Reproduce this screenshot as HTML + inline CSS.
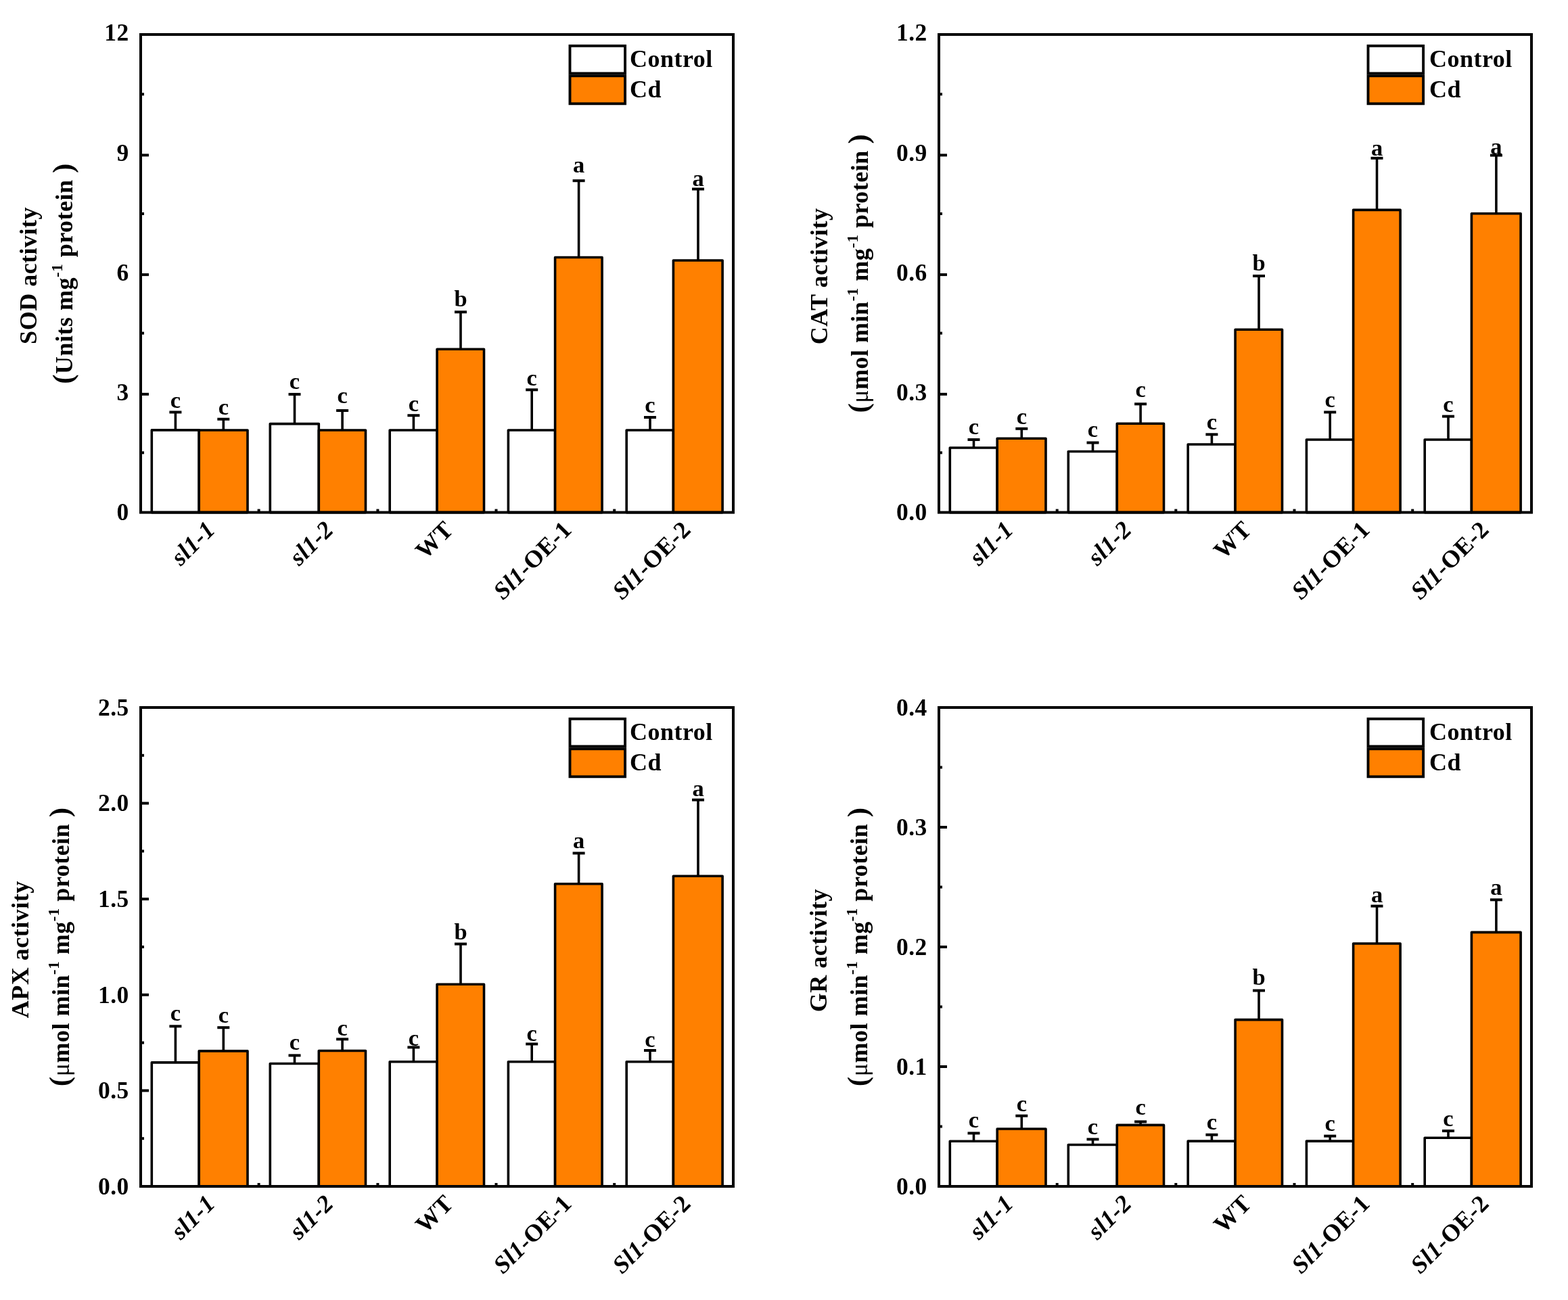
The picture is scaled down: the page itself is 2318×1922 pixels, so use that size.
<!DOCTYPE html><html><head><meta charset="utf-8"><style>html,body{margin:0;padding:0;background:#fff;overflow:hidden;}svg{display:block;}text{font-family:"Liberation Serif","Times New Roman",serif;font-weight:bold;fill:#000;}</style></head><body>
<svg width="2318" height="1922" viewBox="0 0 2318 1922">
<rect x="0" y="0" width="2318" height="1922" fill="#fff"/>
<g>
<line x1="259.4" y1="635.9" x2="259.4" y2="609.4" stroke="#000" stroke-width="3.6"/>
<line x1="250.4" y1="609.4" x2="268.4" y2="609.4" stroke="#000" stroke-width="4"/>
<line x1="330.3" y1="636.0" x2="330.3" y2="619.7" stroke="#000" stroke-width="3.6"/>
<line x1="321.3" y1="619.7" x2="339.3" y2="619.7" stroke="#000" stroke-width="4"/>
<rect x="224.3" y="635.9" width="69.9" height="121.7" fill="#fff" stroke="#000" stroke-width="3.6" stroke-linejoin="round"/>
<rect x="294.2" y="636.0" width="71.8" height="121.6" fill="#FF8000" stroke="#000" stroke-width="3.6" stroke-linejoin="round"/>
<text x="259.4" y="603.0" font-size="34.5" text-anchor="middle">c</text>
<text x="330.3" y="612.5" font-size="34.5" text-anchor="middle">c</text>
<line x1="435.5" y1="626.6" x2="435.5" y2="582.9" stroke="#000" stroke-width="3.6"/>
<line x1="426.5" y1="582.9" x2="444.5" y2="582.9" stroke="#000" stroke-width="4"/>
<line x1="506.1" y1="636.0" x2="506.1" y2="607.0" stroke="#000" stroke-width="3.6"/>
<line x1="497.1" y1="607.0" x2="515.1" y2="607.0" stroke="#000" stroke-width="4"/>
<rect x="399.3" y="626.6" width="72.0" height="131.0" fill="#fff" stroke="#000" stroke-width="3.6" stroke-linejoin="round"/>
<rect x="471.3" y="636.0" width="69.2" height="121.6" fill="#FF8000" stroke="#000" stroke-width="3.6" stroke-linejoin="round"/>
<text x="435.5" y="574.8" font-size="34.5" text-anchor="middle">c</text>
<text x="506.1" y="596.3" font-size="34.5" text-anchor="middle">c</text>
<line x1="611.4" y1="636.0" x2="611.4" y2="614.2" stroke="#000" stroke-width="3.6"/>
<line x1="602.4" y1="614.2" x2="620.4" y2="614.2" stroke="#000" stroke-width="4"/>
<line x1="681.0" y1="516.3" x2="681.0" y2="461.3" stroke="#000" stroke-width="3.6"/>
<line x1="672.0" y1="461.3" x2="690.0" y2="461.3" stroke="#000" stroke-width="4"/>
<rect x="576.2" y="636.0" width="69.9" height="121.6" fill="#fff" stroke="#000" stroke-width="3.6" stroke-linejoin="round"/>
<rect x="646.1" y="516.3" width="69.4" height="241.3" fill="#FF8000" stroke="#000" stroke-width="3.6" stroke-linejoin="round"/>
<text x="611.4" y="608.0" font-size="34.5" text-anchor="middle">c</text>
<text x="681.0" y="453.0" font-size="34.5" text-anchor="middle">b</text>
<line x1="786.2" y1="636.0" x2="786.2" y2="576.3" stroke="#000" stroke-width="3.6"/>
<line x1="777.2" y1="576.3" x2="795.2" y2="576.3" stroke="#000" stroke-width="4"/>
<line x1="855.6" y1="380.5" x2="855.6" y2="267.2" stroke="#000" stroke-width="3.6"/>
<line x1="846.6" y1="267.2" x2="864.6" y2="267.2" stroke="#000" stroke-width="4"/>
<rect x="751.4" y="636.0" width="69.2" height="121.6" fill="#fff" stroke="#000" stroke-width="3.6" stroke-linejoin="round"/>
<rect x="820.6" y="380.5" width="69.5" height="377.1" fill="#FF8000" stroke="#000" stroke-width="3.6" stroke-linejoin="round"/>
<text x="786.2" y="570.4" font-size="34.5" text-anchor="middle">c</text>
<text x="855.6" y="255.0" font-size="34.5" text-anchor="middle">a</text>
<line x1="961.0" y1="636.0" x2="961.0" y2="617.0" stroke="#000" stroke-width="3.6"/>
<line x1="952.0" y1="617.0" x2="970.0" y2="617.0" stroke="#000" stroke-width="4"/>
<line x1="1032.0" y1="385.0" x2="1032.0" y2="279.5" stroke="#000" stroke-width="3.6"/>
<line x1="1023.0" y1="279.5" x2="1041.0" y2="279.5" stroke="#000" stroke-width="4"/>
<rect x="926.2" y="636.0" width="69.2" height="121.6" fill="#fff" stroke="#000" stroke-width="3.6" stroke-linejoin="round"/>
<rect x="995.4" y="385.0" width="72.7" height="372.6" fill="#FF8000" stroke="#000" stroke-width="3.6" stroke-linejoin="round"/>
<text x="961.0" y="609.7" font-size="34.5" text-anchor="middle">c</text>
<text x="1032.0" y="274.8" font-size="34.5" text-anchor="middle">a</text>
<rect x="208.0" y="51.0" width="876.0" height="706.6" fill="none" stroke="#000" stroke-width="4"/>
<text x="190.8" y="769.4" font-size="35.5" letter-spacing="0.5" text-anchor="end">0</text>
<line x1="208.0" y1="582.8" x2="220.0" y2="582.8" stroke="#000" stroke-width="4"/>
<text x="190.8" y="592.1" font-size="35.5" letter-spacing="0.5" text-anchor="end">3</text>
<line x1="208.0" y1="406.1" x2="220.0" y2="406.1" stroke="#000" stroke-width="4"/>
<text x="190.8" y="414.9" font-size="35.5" letter-spacing="0.5" text-anchor="end">6</text>
<line x1="208.0" y1="229.4" x2="220.0" y2="229.4" stroke="#000" stroke-width="4"/>
<text x="190.8" y="237.6" font-size="35.5" letter-spacing="0.5" text-anchor="end">9</text>
<text x="190.8" y="60.4" font-size="35.5" letter-spacing="0.5" text-anchor="end">12</text>
<line x1="208.0" y1="669.3" x2="213.0" y2="669.3" stroke="#000" stroke-width="4"/>
<line x1="208.0" y1="492.6" x2="213.0" y2="492.6" stroke="#000" stroke-width="4"/>
<line x1="208.0" y1="316.0" x2="213.0" y2="316.0" stroke="#000" stroke-width="4"/>
<line x1="208.0" y1="139.3" x2="213.0" y2="139.3" stroke="#000" stroke-width="4"/>
<line x1="382.6" y1="757.6" x2="382.6" y2="752.6" stroke="#000" stroke-width="4"/>
<line x1="558.4" y1="757.6" x2="558.4" y2="752.6" stroke="#000" stroke-width="4"/>
<line x1="733.5" y1="757.6" x2="733.5" y2="752.6" stroke="#000" stroke-width="4"/>
<line x1="908.2" y1="757.6" x2="908.2" y2="752.6" stroke="#000" stroke-width="4"/>
<text x="320.0" y="785.1" font-size="36" letter-spacing="0.5" text-anchor="end" transform="rotate(-45 320.0 785.1)"><tspan font-style="italic">sl1-1</tspan></text>
<text x="495.0" y="785.1" font-size="36" letter-spacing="0.5" text-anchor="end" transform="rotate(-45 495.0 785.1)"><tspan font-style="italic">sl1-2</tspan></text>
<text x="672.0" y="785.1" font-size="36" letter-spacing="0.5" text-anchor="end" transform="rotate(-45 672.0 785.1)">WT</text>
<text x="847.0" y="785.1" font-size="36" letter-spacing="0.5" text-anchor="end" transform="rotate(-45 847.0 785.1)"><tspan font-style="italic">Sl1</tspan>-OE-1</text>
<text x="1023.0" y="785.1" font-size="36" letter-spacing="0.5" text-anchor="end" transform="rotate(-45 1023.0 785.1)"><tspan font-style="italic">Sl1</tspan>-OE-2</text>
<rect x="842.5" y="67.8" width="81.6" height="40.7" fill="#fff" stroke="#000" stroke-width="3.9"/>
<rect x="842.5" y="112.2" width="81.6" height="41.1" fill="#FF8000" stroke="#000" stroke-width="3.9"/>
<text x="931.0" y="99.0" font-size="36" letter-spacing="0.5">Control</text>
<text x="931.0" y="144.0" font-size="36" letter-spacing="0.5">Cd</text>
<text x="0" y="0" font-size="36" letter-spacing="0.5" text-anchor="middle" transform="translate(53.8 407.4) rotate(-90)">SOD activity</text>
<text x="0" y="0" font-size="36" letter-spacing="0.5" text-anchor="middle" transform="translate(107.4 404.4) rotate(-90)"><tspan font-size="43">(</tspan>Units mg<tspan font-size="23" dy="-15">-1</tspan><tspan dy="15"> protein </tspan><tspan font-size="43">)</tspan></text>
</g>
<g>
<line x1="1439.5" y1="662.0" x2="1439.5" y2="650.0" stroke="#000" stroke-width="3.6"/>
<line x1="1430.5" y1="650.0" x2="1448.5" y2="650.0" stroke="#000" stroke-width="4"/>
<line x1="1510.3" y1="648.2" x2="1510.3" y2="633.8" stroke="#000" stroke-width="3.6"/>
<line x1="1501.3" y1="633.8" x2="1519.3" y2="633.8" stroke="#000" stroke-width="4"/>
<rect x="1404.3" y="662.0" width="69.9" height="95.6" fill="#fff" stroke="#000" stroke-width="3.6" stroke-linejoin="round"/>
<rect x="1474.2" y="648.2" width="71.8" height="109.4" fill="#FF8000" stroke="#000" stroke-width="3.6" stroke-linejoin="round"/>
<text x="1439.5" y="641.7" font-size="34.5" text-anchor="middle">c</text>
<text x="1510.3" y="627.0" font-size="34.5" text-anchor="middle">c</text>
<line x1="1615.5" y1="667.5" x2="1615.5" y2="654.5" stroke="#000" stroke-width="3.6"/>
<line x1="1606.5" y1="654.5" x2="1624.5" y2="654.5" stroke="#000" stroke-width="4"/>
<line x1="1686.1" y1="626.2" x2="1686.1" y2="597.3" stroke="#000" stroke-width="3.6"/>
<line x1="1677.1" y1="597.3" x2="1695.1" y2="597.3" stroke="#000" stroke-width="4"/>
<rect x="1579.3" y="667.5" width="72.0" height="90.1" fill="#fff" stroke="#000" stroke-width="3.6" stroke-linejoin="round"/>
<rect x="1651.3" y="626.2" width="69.2" height="131.4" fill="#FF8000" stroke="#000" stroke-width="3.6" stroke-linejoin="round"/>
<text x="1615.5" y="646.0" font-size="34.5" text-anchor="middle">c</text>
<text x="1686.1" y="586.8" font-size="34.5" text-anchor="middle">c</text>
<line x1="1791.4" y1="657.0" x2="1791.4" y2="642.3" stroke="#000" stroke-width="3.6"/>
<line x1="1782.4" y1="642.3" x2="1800.4" y2="642.3" stroke="#000" stroke-width="4"/>
<line x1="1861.0" y1="487.2" x2="1861.0" y2="408.0" stroke="#000" stroke-width="3.6"/>
<line x1="1852.0" y1="408.0" x2="1870.0" y2="408.0" stroke="#000" stroke-width="4"/>
<rect x="1756.2" y="657.0" width="69.9" height="100.6" fill="#fff" stroke="#000" stroke-width="3.6" stroke-linejoin="round"/>
<rect x="1826.1" y="487.2" width="69.4" height="270.4" fill="#FF8000" stroke="#000" stroke-width="3.6" stroke-linejoin="round"/>
<text x="1791.4" y="634.6" font-size="34.5" text-anchor="middle">c</text>
<text x="1861.0" y="400.3" font-size="34.5" text-anchor="middle">b</text>
<line x1="1966.2" y1="650.0" x2="1966.2" y2="609.4" stroke="#000" stroke-width="3.6"/>
<line x1="1957.2" y1="609.4" x2="1975.2" y2="609.4" stroke="#000" stroke-width="4"/>
<line x1="2035.5" y1="310.4" x2="2035.5" y2="233.8" stroke="#000" stroke-width="3.6"/>
<line x1="2026.5" y1="233.8" x2="2044.5" y2="233.8" stroke="#000" stroke-width="4"/>
<rect x="1931.4" y="650.0" width="69.2" height="107.6" fill="#fff" stroke="#000" stroke-width="3.6" stroke-linejoin="round"/>
<rect x="2000.6" y="310.4" width="69.5" height="447.2" fill="#FF8000" stroke="#000" stroke-width="3.6" stroke-linejoin="round"/>
<text x="1966.2" y="601.7" font-size="34.5" text-anchor="middle">c</text>
<text x="2035.5" y="229.7" font-size="34.5" text-anchor="middle">a</text>
<line x1="2141.0" y1="650.0" x2="2141.0" y2="615.6" stroke="#000" stroke-width="3.6"/>
<line x1="2132.0" y1="615.6" x2="2150.0" y2="615.6" stroke="#000" stroke-width="4"/>
<line x1="2211.9" y1="315.8" x2="2211.9" y2="229.6" stroke="#000" stroke-width="3.6"/>
<line x1="2202.9" y1="229.6" x2="2220.9" y2="229.6" stroke="#000" stroke-width="4"/>
<rect x="2106.2" y="650.0" width="69.2" height="107.6" fill="#fff" stroke="#000" stroke-width="3.6" stroke-linejoin="round"/>
<rect x="2175.4" y="315.8" width="72.7" height="441.8" fill="#FF8000" stroke="#000" stroke-width="3.6" stroke-linejoin="round"/>
<text x="2141.0" y="608.7" font-size="34.5" text-anchor="middle">c</text>
<text x="2211.9" y="227.9" font-size="34.5" text-anchor="middle">a</text>
<rect x="1388.0" y="51.0" width="876.0" height="706.6" fill="none" stroke="#000" stroke-width="4"/>
<text x="1370.8" y="769.4" font-size="35.5" letter-spacing="0.5" text-anchor="end">0.0</text>
<line x1="1388.0" y1="582.8" x2="1400.0" y2="582.8" stroke="#000" stroke-width="4"/>
<text x="1370.8" y="592.1" font-size="35.5" letter-spacing="0.5" text-anchor="end">0.3</text>
<line x1="1388.0" y1="406.1" x2="1400.0" y2="406.1" stroke="#000" stroke-width="4"/>
<text x="1370.8" y="414.9" font-size="35.5" letter-spacing="0.5" text-anchor="end">0.6</text>
<line x1="1388.0" y1="229.4" x2="1400.0" y2="229.4" stroke="#000" stroke-width="4"/>
<text x="1370.8" y="237.6" font-size="35.5" letter-spacing="0.5" text-anchor="end">0.9</text>
<text x="1370.8" y="60.4" font-size="35.5" letter-spacing="0.5" text-anchor="end">1.2</text>
<line x1="1388.0" y1="669.3" x2="1393.0" y2="669.3" stroke="#000" stroke-width="4"/>
<line x1="1388.0" y1="492.6" x2="1393.0" y2="492.6" stroke="#000" stroke-width="4"/>
<line x1="1388.0" y1="316.0" x2="1393.0" y2="316.0" stroke="#000" stroke-width="4"/>
<line x1="1388.0" y1="139.3" x2="1393.0" y2="139.3" stroke="#000" stroke-width="4"/>
<line x1="1562.7" y1="757.6" x2="1562.7" y2="752.6" stroke="#000" stroke-width="4"/>
<line x1="1738.3" y1="757.6" x2="1738.3" y2="752.6" stroke="#000" stroke-width="4"/>
<line x1="1913.5" y1="757.6" x2="1913.5" y2="752.6" stroke="#000" stroke-width="4"/>
<line x1="2088.2" y1="757.6" x2="2088.2" y2="752.6" stroke="#000" stroke-width="4"/>
<text x="1500.0" y="785.1" font-size="36" letter-spacing="0.5" text-anchor="end" transform="rotate(-45 1500.0 785.1)"><tspan font-style="italic">sl1-1</tspan></text>
<text x="1675.0" y="785.1" font-size="36" letter-spacing="0.5" text-anchor="end" transform="rotate(-45 1675.0 785.1)"><tspan font-style="italic">sl1-2</tspan></text>
<text x="1852.0" y="785.1" font-size="36" letter-spacing="0.5" text-anchor="end" transform="rotate(-45 1852.0 785.1)">WT</text>
<text x="2027.0" y="785.1" font-size="36" letter-spacing="0.5" text-anchor="end" transform="rotate(-45 2027.0 785.1)"><tspan font-style="italic">Sl1</tspan>-OE-1</text>
<text x="2203.0" y="785.1" font-size="36" letter-spacing="0.5" text-anchor="end" transform="rotate(-45 2203.0 785.1)"><tspan font-style="italic">Sl1</tspan>-OE-2</text>
<rect x="2022.5" y="67.8" width="81.6" height="40.7" fill="#fff" stroke="#000" stroke-width="3.9"/>
<rect x="2022.5" y="112.2" width="81.6" height="41.1" fill="#FF8000" stroke="#000" stroke-width="3.9"/>
<text x="2113.0" y="99.0" font-size="36" letter-spacing="0.5">Control</text>
<text x="2113.0" y="144.0" font-size="36" letter-spacing="0.5">Cd</text>
<text x="0" y="0" font-size="36" letter-spacing="0.5" text-anchor="middle" transform="translate(1223.0 408.4) rotate(-90)">CAT activity</text>
<text x="0" y="0" font-size="36" letter-spacing="0.5" text-anchor="middle" transform="translate(1282.5 404.2) rotate(-90)"><tspan font-size="43">(</tspan><tspan font-weight="normal">μ</tspan>mol min<tspan font-size="23" dy="-15">-1</tspan><tspan dy="15"> mg</tspan><tspan font-size="23" dy="-15">-1</tspan><tspan dy="15"> protein </tspan><tspan font-size="43">)</tspan></text>
</g>
<g>
<line x1="259.4" y1="1570.9" x2="259.4" y2="1517.3" stroke="#000" stroke-width="3.6"/>
<line x1="250.4" y1="1517.3" x2="268.4" y2="1517.3" stroke="#000" stroke-width="4"/>
<line x1="330.3" y1="1553.9" x2="330.3" y2="1519.2" stroke="#000" stroke-width="3.6"/>
<line x1="321.3" y1="1519.2" x2="339.3" y2="1519.2" stroke="#000" stroke-width="4"/>
<rect x="224.3" y="1570.9" width="69.9" height="183.1" fill="#fff" stroke="#000" stroke-width="3.6" stroke-linejoin="round"/>
<rect x="294.2" y="1553.9" width="71.8" height="200.1" fill="#FF8000" stroke="#000" stroke-width="3.6" stroke-linejoin="round"/>
<text x="259.4" y="1509.0" font-size="34.5" text-anchor="middle">c</text>
<text x="330.3" y="1511.6" font-size="34.5" text-anchor="middle">c</text>
<line x1="435.5" y1="1572.5" x2="435.5" y2="1560.4" stroke="#000" stroke-width="3.6"/>
<line x1="426.5" y1="1560.4" x2="444.5" y2="1560.4" stroke="#000" stroke-width="4"/>
<line x1="506.1" y1="1553.5" x2="506.1" y2="1536.4" stroke="#000" stroke-width="3.6"/>
<line x1="497.1" y1="1536.4" x2="515.1" y2="1536.4" stroke="#000" stroke-width="4"/>
<rect x="399.3" y="1572.5" width="72.0" height="181.5" fill="#fff" stroke="#000" stroke-width="3.6" stroke-linejoin="round"/>
<rect x="471.3" y="1553.5" width="69.2" height="200.5" fill="#FF8000" stroke="#000" stroke-width="3.6" stroke-linejoin="round"/>
<text x="435.5" y="1552.1" font-size="34.5" text-anchor="middle">c</text>
<text x="506.1" y="1530.5" font-size="34.5" text-anchor="middle">c</text>
<line x1="611.4" y1="1569.7" x2="611.4" y2="1548.4" stroke="#000" stroke-width="3.6"/>
<line x1="602.4" y1="1548.4" x2="620.4" y2="1548.4" stroke="#000" stroke-width="4"/>
<line x1="681.0" y1="1455.2" x2="681.0" y2="1395.6" stroke="#000" stroke-width="3.6"/>
<line x1="672.0" y1="1395.6" x2="690.0" y2="1395.6" stroke="#000" stroke-width="4"/>
<rect x="576.2" y="1569.7" width="69.9" height="184.3" fill="#fff" stroke="#000" stroke-width="3.6" stroke-linejoin="round"/>
<rect x="646.1" y="1455.2" width="69.4" height="298.8" fill="#FF8000" stroke="#000" stroke-width="3.6" stroke-linejoin="round"/>
<text x="611.4" y="1546.2" font-size="34.5" text-anchor="middle">c</text>
<text x="681.0" y="1388.9" font-size="34.5" text-anchor="middle">b</text>
<line x1="786.2" y1="1569.7" x2="786.2" y2="1543.5" stroke="#000" stroke-width="3.6"/>
<line x1="777.2" y1="1543.5" x2="795.2" y2="1543.5" stroke="#000" stroke-width="4"/>
<line x1="855.6" y1="1306.7" x2="855.6" y2="1261.4" stroke="#000" stroke-width="3.6"/>
<line x1="846.6" y1="1261.4" x2="864.6" y2="1261.4" stroke="#000" stroke-width="4"/>
<rect x="751.4" y="1569.7" width="69.2" height="184.3" fill="#fff" stroke="#000" stroke-width="3.6" stroke-linejoin="round"/>
<rect x="820.6" y="1306.7" width="69.5" height="447.3" fill="#FF8000" stroke="#000" stroke-width="3.6" stroke-linejoin="round"/>
<text x="786.2" y="1538.7" font-size="34.5" text-anchor="middle">c</text>
<text x="855.6" y="1254.3" font-size="34.5" text-anchor="middle">a</text>
<line x1="961.0" y1="1569.7" x2="961.0" y2="1553.0" stroke="#000" stroke-width="3.6"/>
<line x1="952.0" y1="1553.0" x2="970.0" y2="1553.0" stroke="#000" stroke-width="4"/>
<line x1="1032.0" y1="1295.3" x2="1032.0" y2="1182.6" stroke="#000" stroke-width="3.6"/>
<line x1="1023.0" y1="1182.6" x2="1041.0" y2="1182.6" stroke="#000" stroke-width="4"/>
<rect x="926.2" y="1569.7" width="69.2" height="184.3" fill="#fff" stroke="#000" stroke-width="3.6" stroke-linejoin="round"/>
<rect x="995.4" y="1295.3" width="72.7" height="458.7" fill="#FF8000" stroke="#000" stroke-width="3.6" stroke-linejoin="round"/>
<text x="961.0" y="1548.1" font-size="34.5" text-anchor="middle">c</text>
<text x="1032.0" y="1176.6" font-size="34.5" text-anchor="middle">a</text>
<rect x="208.0" y="1046.0" width="876.0" height="708.0" fill="none" stroke="#000" stroke-width="4"/>
<text x="190.8" y="1765.8" font-size="35.5" letter-spacing="0.5" text-anchor="end">0.0</text>
<line x1="208.0" y1="1612.4" x2="220.0" y2="1612.4" stroke="#000" stroke-width="4"/>
<text x="190.8" y="1624.2" font-size="35.5" letter-spacing="0.5" text-anchor="end">0.5</text>
<line x1="208.0" y1="1470.8" x2="220.0" y2="1470.8" stroke="#000" stroke-width="4"/>
<text x="190.8" y="1482.6" font-size="35.5" letter-spacing="0.5" text-anchor="end">1.0</text>
<line x1="208.0" y1="1329.2" x2="220.0" y2="1329.2" stroke="#000" stroke-width="4"/>
<text x="190.8" y="1341.0" font-size="35.5" letter-spacing="0.5" text-anchor="end">1.5</text>
<line x1="208.0" y1="1187.6" x2="220.0" y2="1187.6" stroke="#000" stroke-width="4"/>
<text x="190.8" y="1199.4" font-size="35.5" letter-spacing="0.5" text-anchor="end">2.0</text>
<text x="190.8" y="1057.8" font-size="35.5" letter-spacing="0.5" text-anchor="end">2.5</text>
<line x1="208.0" y1="1683.2" x2="213.0" y2="1683.2" stroke="#000" stroke-width="4"/>
<line x1="208.0" y1="1541.6" x2="213.0" y2="1541.6" stroke="#000" stroke-width="4"/>
<line x1="208.0" y1="1400.0" x2="213.0" y2="1400.0" stroke="#000" stroke-width="4"/>
<line x1="208.0" y1="1258.4" x2="213.0" y2="1258.4" stroke="#000" stroke-width="4"/>
<line x1="208.0" y1="1116.8" x2="213.0" y2="1116.8" stroke="#000" stroke-width="4"/>
<line x1="382.6" y1="1754.0" x2="382.6" y2="1749.0" stroke="#000" stroke-width="4"/>
<line x1="558.4" y1="1754.0" x2="558.4" y2="1749.0" stroke="#000" stroke-width="4"/>
<line x1="733.5" y1="1754.0" x2="733.5" y2="1749.0" stroke="#000" stroke-width="4"/>
<line x1="908.2" y1="1754.0" x2="908.2" y2="1749.0" stroke="#000" stroke-width="4"/>
<text x="320.0" y="1781.5" font-size="36" letter-spacing="0.5" text-anchor="end" transform="rotate(-45 320.0 1781.5)"><tspan font-style="italic">sl1-1</tspan></text>
<text x="495.0" y="1781.5" font-size="36" letter-spacing="0.5" text-anchor="end" transform="rotate(-45 495.0 1781.5)"><tspan font-style="italic">sl1-2</tspan></text>
<text x="672.0" y="1781.5" font-size="36" letter-spacing="0.5" text-anchor="end" transform="rotate(-45 672.0 1781.5)">WT</text>
<text x="847.0" y="1781.5" font-size="36" letter-spacing="0.5" text-anchor="end" transform="rotate(-45 847.0 1781.5)"><tspan font-style="italic">Sl1</tspan>-OE-1</text>
<text x="1023.0" y="1781.5" font-size="36" letter-spacing="0.5" text-anchor="end" transform="rotate(-45 1023.0 1781.5)"><tspan font-style="italic">Sl1</tspan>-OE-2</text>
<rect x="842.5" y="1062.8" width="81.6" height="40.7" fill="#fff" stroke="#000" stroke-width="3.9"/>
<rect x="842.5" y="1107.2" width="81.6" height="41.1" fill="#FF8000" stroke="#000" stroke-width="3.9"/>
<text x="931.0" y="1094.0" font-size="36" letter-spacing="0.5">Control</text>
<text x="931.0" y="1139.0" font-size="36" letter-spacing="0.5">Cd</text>
<text x="0" y="0" font-size="36" letter-spacing="0.5" text-anchor="middle" transform="translate(42.0 1403.7) rotate(-90)">APX activity</text>
<text x="0" y="0" font-size="36" letter-spacing="0.5" text-anchor="middle" transform="translate(101.8 1399.8) rotate(-90)"><tspan font-size="43">(</tspan><tspan font-weight="normal">μ</tspan>mol min<tspan font-size="23" dy="-15">-1</tspan><tspan dy="15"> mg</tspan><tspan font-size="23" dy="-15">-1</tspan><tspan dy="15"> protein </tspan><tspan font-size="43">)</tspan></text>
</g>
<g>
<line x1="1439.5" y1="1687.3" x2="1439.5" y2="1675.4" stroke="#000" stroke-width="3.6"/>
<line x1="1430.5" y1="1675.4" x2="1448.5" y2="1675.4" stroke="#000" stroke-width="4"/>
<line x1="1510.3" y1="1669.0" x2="1510.3" y2="1649.7" stroke="#000" stroke-width="3.6"/>
<line x1="1501.3" y1="1649.7" x2="1519.3" y2="1649.7" stroke="#000" stroke-width="4"/>
<rect x="1404.3" y="1687.3" width="69.9" height="66.7" fill="#fff" stroke="#000" stroke-width="3.6" stroke-linejoin="round"/>
<rect x="1474.2" y="1669.0" width="71.8" height="85.0" fill="#FF8000" stroke="#000" stroke-width="3.6" stroke-linejoin="round"/>
<text x="1439.5" y="1667.1" font-size="34.5" text-anchor="middle">c</text>
<text x="1510.3" y="1643.1" font-size="34.5" text-anchor="middle">c</text>
<line x1="1615.5" y1="1692.5" x2="1615.5" y2="1684.4" stroke="#000" stroke-width="3.6"/>
<line x1="1606.5" y1="1684.4" x2="1624.5" y2="1684.4" stroke="#000" stroke-width="4"/>
<line x1="1686.1" y1="1663.4" x2="1686.1" y2="1658.4" stroke="#000" stroke-width="3.6"/>
<line x1="1677.1" y1="1658.4" x2="1695.1" y2="1658.4" stroke="#000" stroke-width="4"/>
<rect x="1579.3" y="1692.5" width="72.0" height="61.5" fill="#fff" stroke="#000" stroke-width="3.6" stroke-linejoin="round"/>
<rect x="1651.3" y="1663.4" width="69.2" height="90.6" fill="#FF8000" stroke="#000" stroke-width="3.6" stroke-linejoin="round"/>
<text x="1615.5" y="1676.6" font-size="34.5" text-anchor="middle">c</text>
<text x="1686.1" y="1648.3" font-size="34.5" text-anchor="middle">c</text>
<line x1="1791.4" y1="1687.1" x2="1791.4" y2="1677.7" stroke="#000" stroke-width="3.6"/>
<line x1="1782.4" y1="1677.7" x2="1800.4" y2="1677.7" stroke="#000" stroke-width="4"/>
<line x1="1861.0" y1="1507.6" x2="1861.0" y2="1464.5" stroke="#000" stroke-width="3.6"/>
<line x1="1852.0" y1="1464.5" x2="1870.0" y2="1464.5" stroke="#000" stroke-width="4"/>
<rect x="1756.2" y="1687.1" width="69.9" height="66.9" fill="#fff" stroke="#000" stroke-width="3.6" stroke-linejoin="round"/>
<rect x="1826.1" y="1507.6" width="69.4" height="246.4" fill="#FF8000" stroke="#000" stroke-width="3.6" stroke-linejoin="round"/>
<text x="1791.4" y="1670.3" font-size="34.5" text-anchor="middle">c</text>
<text x="1861.0" y="1455.5" font-size="34.5" text-anchor="middle">b</text>
<line x1="1966.2" y1="1687.1" x2="1966.2" y2="1679.6" stroke="#000" stroke-width="3.6"/>
<line x1="1957.2" y1="1679.6" x2="1975.2" y2="1679.6" stroke="#000" stroke-width="4"/>
<line x1="2035.5" y1="1395.0" x2="2035.5" y2="1339.6" stroke="#000" stroke-width="3.6"/>
<line x1="2026.5" y1="1339.6" x2="2044.5" y2="1339.6" stroke="#000" stroke-width="4"/>
<rect x="1931.4" y="1687.1" width="69.2" height="66.9" fill="#fff" stroke="#000" stroke-width="3.6" stroke-linejoin="round"/>
<rect x="2000.6" y="1395.0" width="69.5" height="359.0" fill="#FF8000" stroke="#000" stroke-width="3.6" stroke-linejoin="round"/>
<text x="1966.2" y="1671.7" font-size="34.5" text-anchor="middle">c</text>
<text x="2035.5" y="1334.3" font-size="34.5" text-anchor="middle">a</text>
<line x1="2141.0" y1="1682.2" x2="2141.0" y2="1672.0" stroke="#000" stroke-width="3.6"/>
<line x1="2132.0" y1="1672.0" x2="2150.0" y2="1672.0" stroke="#000" stroke-width="4"/>
<line x1="2211.9" y1="1378.4" x2="2211.9" y2="1330.3" stroke="#000" stroke-width="3.6"/>
<line x1="2202.9" y1="1330.3" x2="2220.9" y2="1330.3" stroke="#000" stroke-width="4"/>
<rect x="2106.2" y="1682.2" width="69.2" height="71.8" fill="#fff" stroke="#000" stroke-width="3.6" stroke-linejoin="round"/>
<rect x="2175.4" y="1378.4" width="72.7" height="375.6" fill="#FF8000" stroke="#000" stroke-width="3.6" stroke-linejoin="round"/>
<text x="2141.0" y="1664.5" font-size="34.5" text-anchor="middle">c</text>
<text x="2211.9" y="1322.8" font-size="34.5" text-anchor="middle">a</text>
<rect x="1388.0" y="1046.0" width="876.0" height="708.0" fill="none" stroke="#000" stroke-width="4"/>
<text x="1370.8" y="1765.8" font-size="35.5" letter-spacing="0.5" text-anchor="end">0.0</text>
<line x1="1388.0" y1="1577.0" x2="1400.0" y2="1577.0" stroke="#000" stroke-width="4"/>
<text x="1370.8" y="1588.8" font-size="35.5" letter-spacing="0.5" text-anchor="end">0.1</text>
<line x1="1388.0" y1="1400.0" x2="1400.0" y2="1400.0" stroke="#000" stroke-width="4"/>
<text x="1370.8" y="1411.8" font-size="35.5" letter-spacing="0.5" text-anchor="end">0.2</text>
<line x1="1388.0" y1="1223.0" x2="1400.0" y2="1223.0" stroke="#000" stroke-width="4"/>
<text x="1370.8" y="1234.8" font-size="35.5" letter-spacing="0.5" text-anchor="end">0.3</text>
<text x="1370.8" y="1057.8" font-size="35.5" letter-spacing="0.5" text-anchor="end">0.4</text>
<line x1="1388.0" y1="1665.5" x2="1393.0" y2="1665.5" stroke="#000" stroke-width="4"/>
<line x1="1388.0" y1="1488.5" x2="1393.0" y2="1488.5" stroke="#000" stroke-width="4"/>
<line x1="1388.0" y1="1311.5" x2="1393.0" y2="1311.5" stroke="#000" stroke-width="4"/>
<line x1="1388.0" y1="1134.5" x2="1393.0" y2="1134.5" stroke="#000" stroke-width="4"/>
<line x1="1562.7" y1="1754.0" x2="1562.7" y2="1749.0" stroke="#000" stroke-width="4"/>
<line x1="1738.3" y1="1754.0" x2="1738.3" y2="1749.0" stroke="#000" stroke-width="4"/>
<line x1="1913.5" y1="1754.0" x2="1913.5" y2="1749.0" stroke="#000" stroke-width="4"/>
<line x1="2088.2" y1="1754.0" x2="2088.2" y2="1749.0" stroke="#000" stroke-width="4"/>
<text x="1500.0" y="1781.5" font-size="36" letter-spacing="0.5" text-anchor="end" transform="rotate(-45 1500.0 1781.5)"><tspan font-style="italic">sl1-1</tspan></text>
<text x="1675.0" y="1781.5" font-size="36" letter-spacing="0.5" text-anchor="end" transform="rotate(-45 1675.0 1781.5)"><tspan font-style="italic">sl1-2</tspan></text>
<text x="1852.0" y="1781.5" font-size="36" letter-spacing="0.5" text-anchor="end" transform="rotate(-45 1852.0 1781.5)">WT</text>
<text x="2027.0" y="1781.5" font-size="36" letter-spacing="0.5" text-anchor="end" transform="rotate(-45 2027.0 1781.5)"><tspan font-style="italic">Sl1</tspan>-OE-1</text>
<text x="2203.0" y="1781.5" font-size="36" letter-spacing="0.5" text-anchor="end" transform="rotate(-45 2203.0 1781.5)"><tspan font-style="italic">Sl1</tspan>-OE-2</text>
<rect x="2022.5" y="1062.8" width="81.6" height="40.7" fill="#fff" stroke="#000" stroke-width="3.9"/>
<rect x="2022.5" y="1107.2" width="81.6" height="41.1" fill="#FF8000" stroke="#000" stroke-width="3.9"/>
<text x="2113.0" y="1094.0" font-size="36" letter-spacing="0.5">Control</text>
<text x="2113.0" y="1139.0" font-size="36" letter-spacing="0.5">Cd</text>
<text x="0" y="0" font-size="36" letter-spacing="0.5" text-anchor="middle" transform="translate(1222.2 1405.1) rotate(-90)">GR activity</text>
<text x="0" y="0" font-size="36" letter-spacing="0.5" text-anchor="middle" transform="translate(1281.8 1399.8) rotate(-90)"><tspan font-size="43">(</tspan><tspan font-weight="normal">μ</tspan>mol min<tspan font-size="23" dy="-15">-1</tspan><tspan dy="15"> mg</tspan><tspan font-size="23" dy="-15">-1</tspan><tspan dy="15"> protein </tspan><tspan font-size="43">)</tspan></text>
</g>
</svg></body></html>
